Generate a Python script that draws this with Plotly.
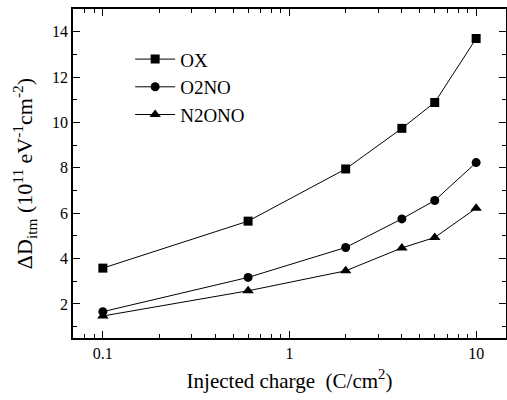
import plotly.graph_objects as go

charge = [0.1, 0.6, 2, 4, 6, 10]
ox = [3.58, 5.65, 7.95, 9.74, 10.88, 13.7]
o2no = [1.66, 3.17, 4.49, 5.75, 6.56, 8.23]
n2ono = [1.47, 2.58, 3.46, 4.47, 4.93, 6.22]
series = [("OX", ox, "square"), ("O2NO", o2no, "circle"), ("N2ONO", n2ono, "triangle-up")]

fig = go.Figure()
for name, vals, sym in series:
    fig.add_trace(go.Scatter(
        x=charge, y=vals, name=name, mode="lines+markers",
        line=dict(color="black", width=1),
        marker=dict(symbol=sym, size=9 if sym != "triangle-up" else 10, color="black"),
    ))

font = "Liberation Serif, Times New Roman, serif"
fig.update_layout(
    width=507, height=400, autosize=False,
    margin=dict(l=73, r=1, t=9, b=62, pad=0),
    paper_bgcolor="white", plot_bgcolor="white",
    font=dict(family=font, color="black", size=16),
    showlegend=True,
    legend=dict(x=0.132, y=0.905, xanchor="left", yanchor="top",
                bgcolor="rgba(0,0,0,0)", font=dict(size=19, family=font),
                itemwidth=40, tracegroupgap=0),
)
fig.update_xaxes(
    type="log", range=[-1.16, 1.16], automargin=False,
    tickvals=[0.1, 1, 10], ticktext=["0.1", "1", "10"],
    ticks="inside", ticklen=7, tickwidth=1, tickcolor="black",
    minor=dict(ticks="inside", ticklen=4, tickcolor="black", showgrid=False, dtick="D1"),
    showline=True, linecolor="black", linewidth=1.5, mirror="ticks",
    showgrid=False, zeroline=False,
    title=dict(text="Injected charge  (C/cm<sup>2</sup>)", font=dict(size=21, family=font), standoff=12),
    tickfont=dict(size=16),
)
fig.update_yaxes(
    range=[0.5, 15], tickvals=[2, 4, 6, 8, 10, 12, 14], automargin=False,
    ticks="inside", ticklen=7, tickwidth=1, tickcolor="black",
    minor=dict(ticks="inside", ticklen=4, tickcolor="black", showgrid=False, dtick=1),
    showline=True, linecolor="black", linewidth=1.5, mirror="ticks",
    showgrid=False, zeroline=False,
    title=dict(text="ΔD<sub>itm</sub> (10<sup>11</sup> eV<sup>-1</sup>cm<sup>-2</sup>)", font=dict(size=22, family=font), standoff=13),
    tickfont=dict(size=16),
)
fig.write_html("out.html", config={"displayModeBar": False},
               post_script="document.body.style.margin='0px';document.body.style.overflow='hidden';document.documentElement.style.overflow='hidden';")
